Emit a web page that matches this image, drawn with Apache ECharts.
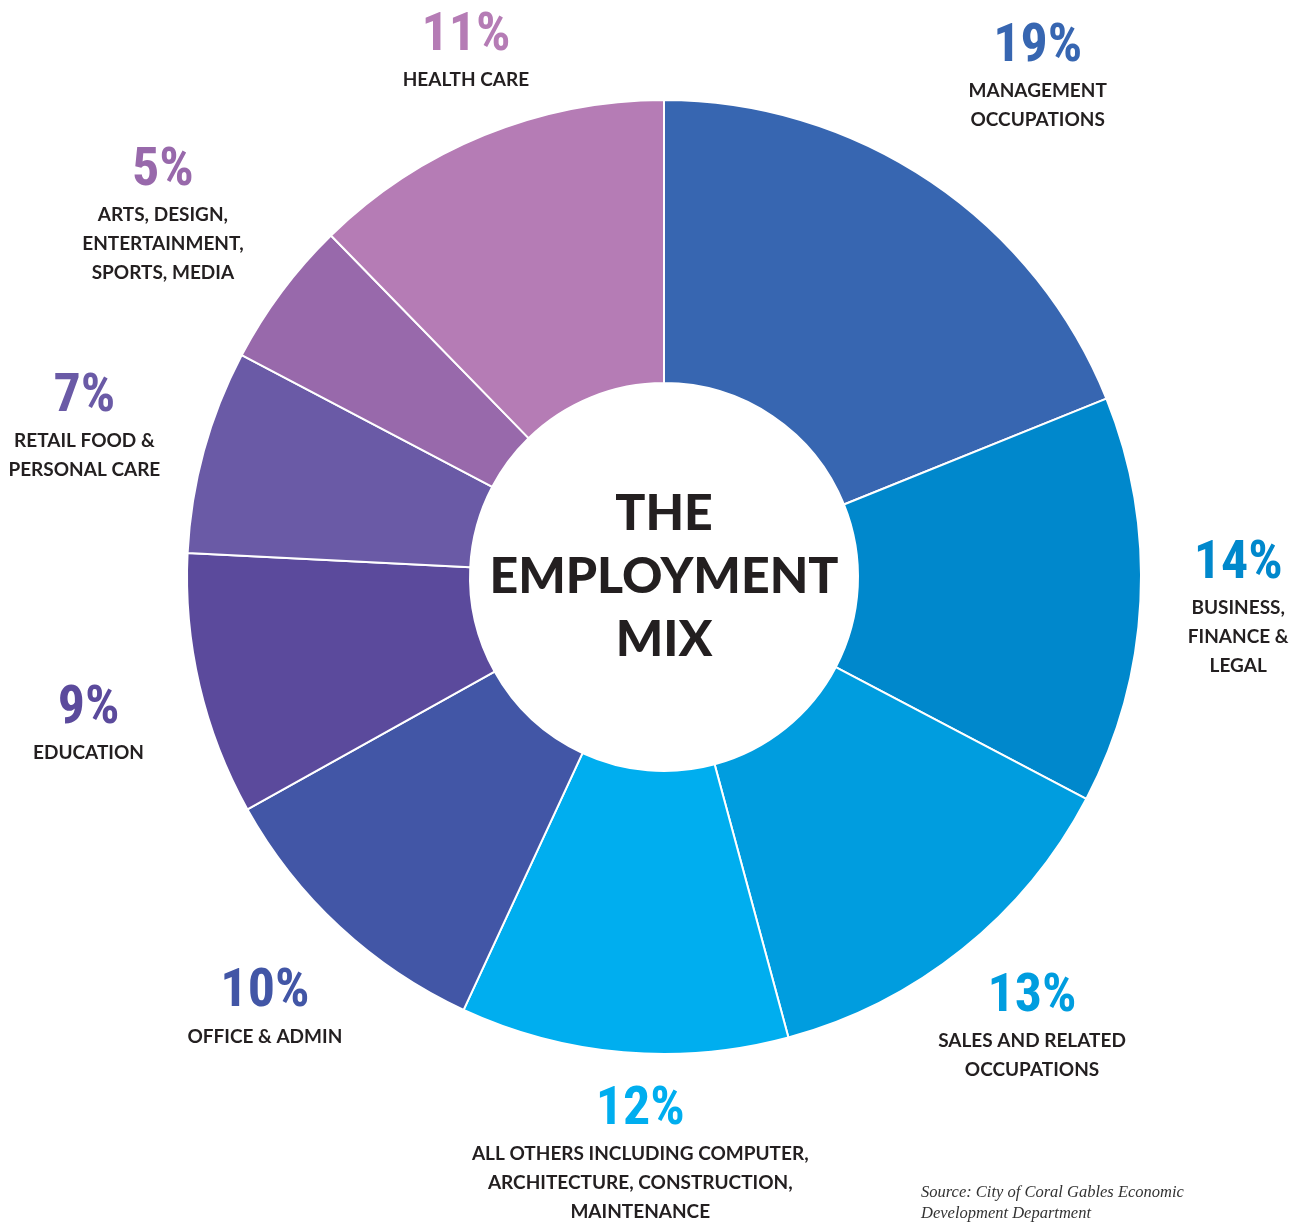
<!DOCTYPE html>
<html><head><meta charset="utf-8">
<script src="https://cdn.jsdelivr.net/npm/echarts@6/dist/echarts.min.js"></script>
<style>html,body{margin:0;padding:0;background:#fff}#c{width:1304px;height:1223px}</style>
</head><body><div id="c"></div>
<script>
// ---- data ----
const categories = [
  'MANAGEMENT\nOCCUPATIONS',
  'BUSINESS,\nFINANCE &\nLEGAL',
  'SALES AND RELATED\nOCCUPATIONS',
  'ALL OTHERS INCLUDING COMPUTER,\nARCHITECTURE, CONSTRUCTION,\nMAINTENANCE',
  'OFFICE & ADMIN',
  'EDUCATION',
  'RETAIL FOOD &\nPERSONAL CARE',
  'ARTS, DESIGN,\nENTERTAINMENT,\nSPORTS, MEDIA',
  'HEALTH CARE'
];
// printed percentages
const shares = [19, 14, 13, 12, 10, 9, 7, 5, 11];
// arc sizes as drawn in the picture (measured, %)
const arcSizes = [18.9, 13.8, 13.1, 11.1, 10.0, 8.9, 6.9, 5.0, 12.3];
const colors = ['#3766b1', '#0088cc', '#009ddf', '#00aeef', '#4256a6', '#5b4a9c', '#6a5aa6', '#9869ab', '#b57cb5'];
// label placement: [angle nudge (deg), distance from centre (px)]
const labelNudge = [[2.7, 625], [0.2, 575], [-0.6, 581], [-2.5, 577], [0, 587], [-1.2, 594], [-0.7, 599], [-0.9, 618], [1.5, 562]];

const CX = 664, CY = 577;
const total = arcSizes.reduce((a, b) => a + b, 0);
const midAngles = [];
{ let acc = 0; arcSizes.forEach(v => { midAngles.push((acc + v / 2) / total * 360); acc += v; }); }

const rich = {};
colors.forEach((c, i) => {
  rich['p' + i] = { color: c, fontSize: 54, fontWeight: 'bold', fontFamily: '"Liberation Sans Narrow", "Roboto Condensed", Lato, sans-serif', lineHeight: 58, align: 'center' };
});
rich.n = { color: '#231f20', fontSize: 19, fontWeight: 'bold', fontFamily: 'Lato, "Open Sans", sans-serif', lineHeight: 29, align: 'center' };

const chart = echarts.init(document.getElementById('c'), null, { renderer: 'canvas' });
chart.setOption({
  animation: false,
  backgroundColor: '#ffffff',
  graphic: [
    {
      type: 'text', x: CX, y: CY, z: 10,
      style: {
        text: 'THE\nEMPLOYMENT\nMIX', fill: '#231f20', font: '900 50px Lato, sans-serif',
        lineHeight: 63, align: 'center', verticalAlign: 'middle'
      }
    },
    {
      type: 'text', left: 921, top: 1182, z: 10,
      style: {
        text: 'Source: City of Coral Gables Economic\nDevelopment Department', fill: '#333',
        font: 'italic 16.5px "Liberation Serif", serif', lineHeight: 21
      }
    }
  ],
  series: [{
    type: 'pie',
    center: [CX, CY],
    radius: [194, 477],
    startAngle: 90,
    clockwise: true,
    avoidLabelOverlap: false,
    itemStyle: { borderColor: '#ffffff', borderWidth: 2 },
    label: {
      show: true, position: 'outside', align: 'center',
      formatter: p => '{p' + p.dataIndex + '|' + shares[p.dataIndex] + '%}\n' + p.name.split('\n').map(s => '{n|' + s + '}').join('\n'),
      rich: rich
    },
    labelLine: { show: false },
    labelLayout: params => {
      const i = params.dataIndex;
      const a = (midAngles[i] + labelNudge[i][0]) * Math.PI / 180;
      const r = labelNudge[i][1];
      return { x: CX + r * Math.sin(a), y: CY - r * Math.cos(a), align: 'center', verticalAlign: 'middle' };
    },
    emphasis: { disabled: true },
    data: categories.map((c, i) => ({ name: c, value: arcSizes[i], itemStyle: { color: colors[i] } }))
  }]
});
</script></body></html>
